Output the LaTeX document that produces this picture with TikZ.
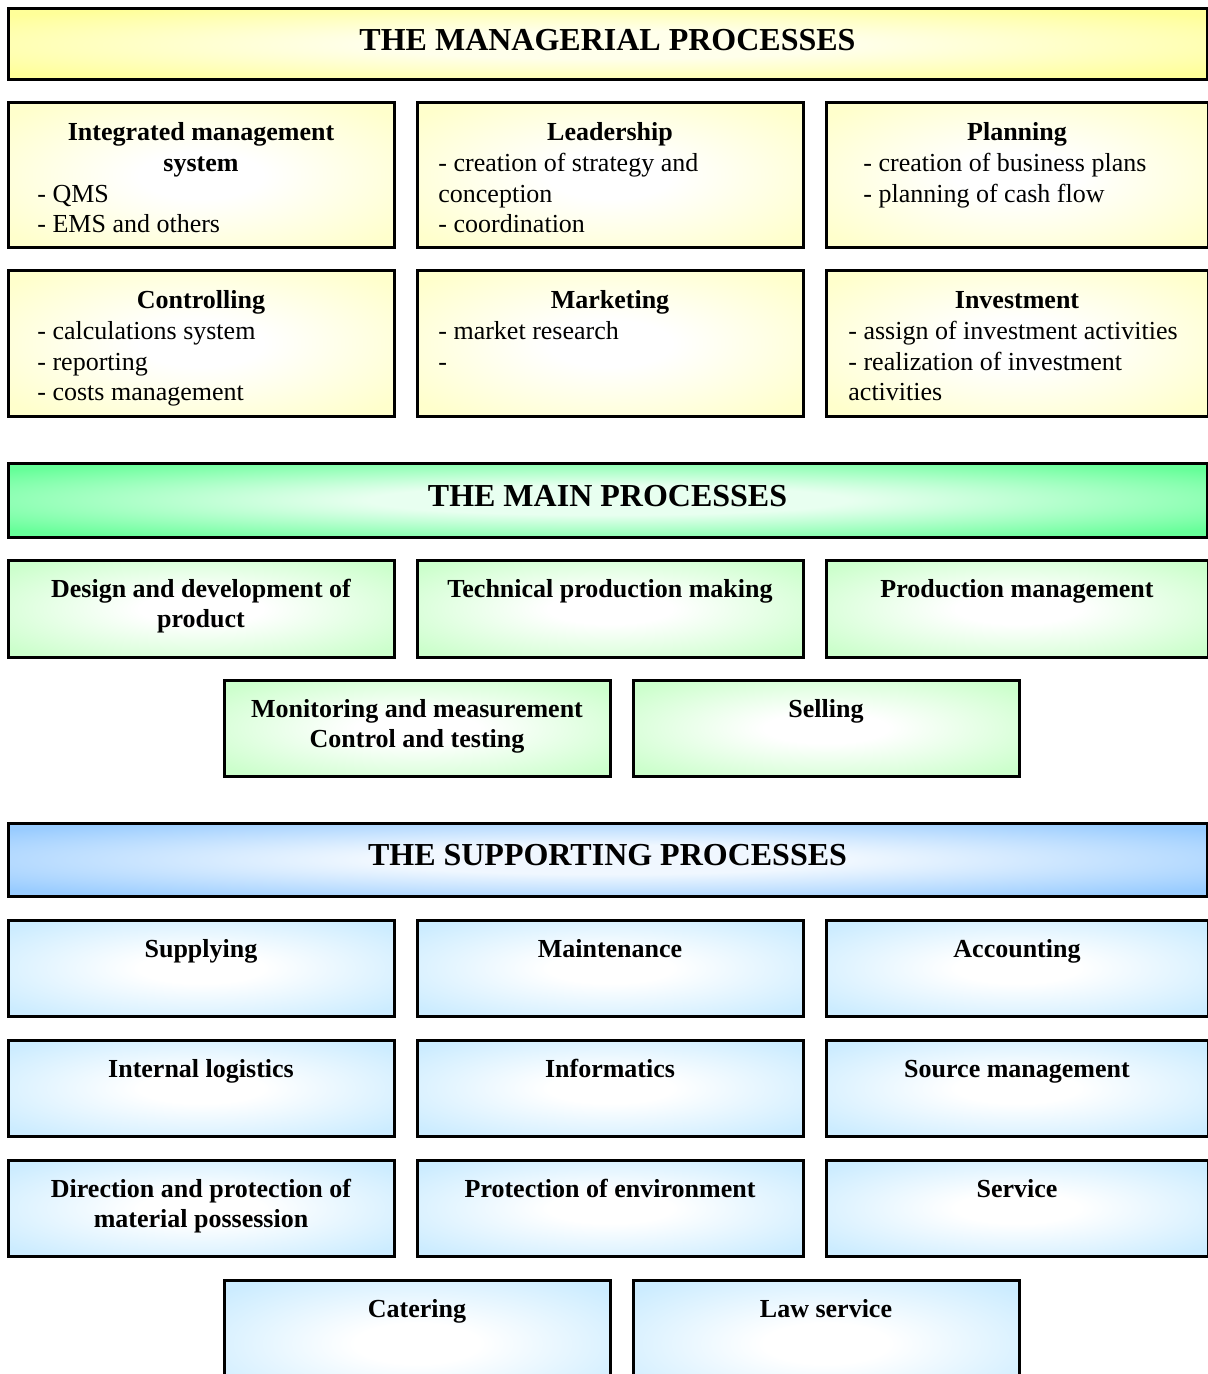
\documentclass[tikz,border=0pt]{standalone}
\usepackage{fontspec}
\setmainfont{Liberation Serif}
\usetikzlibrary{positioning}

\definecolor{mgrhead}{HTML}{FFFF99}
\definecolor{mgrbox}{HTML}{FFFFCC}
\definecolor{mainhead}{HTML}{66FF99}
\definecolor{mainbox}{HTML}{CCFFCC}
\definecolor{suphead}{HTML}{99CCFF}
\definecolor{supbox}{HTML}{CCECFF}
\colorlet{mgrmid}{white!80!mgrhead}
\colorlet{mainmid}{white!85!mainhead}
\colorlet{supmid}{white!85!suphead}

% soft glow: light in the middle, colour at the border
\pgfdeclareradialshading{mgrheadglow}{\pgfpointorigin}{color(0bp)=(mgrmid); color(10bp)=(mgrmid); color(32bp)=(mgrhead); color(50bp)=(mgrhead)}
\pgfdeclareradialshading{mainheadglow}{\pgfpointorigin}{color(0bp)=(mainmid); color(10bp)=(mainmid); color(32bp)=(mainhead); color(50bp)=(mainhead)}
\pgfdeclareradialshading{supheadglow}{\pgfpointorigin}{color(0bp)=(supmid); color(10bp)=(supmid); color(32bp)=(suphead); color(50bp)=(suphead)}
\pgfdeclareradialshading{mgrglow}{\pgfpointorigin}{color(0bp)=(white); color(8bp)=(white); color(32bp)=(mgrbox); color(50bp)=(mgrbox)}
\pgfdeclareradialshading{mainglow}{\pgfpointorigin}{color(0bp)=(white); color(8bp)=(white); color(32bp)=(mainbox); color(50bp)=(mainbox)}
\pgfdeclareradialshading{supglow}{\pgfpointorigin}{color(0bp)=(white); color(8bp)=(white); color(32bp)=(supbox); color(50bp)=(supbox)}

% lines hung from the baseline of the first one
\newcommand{\toplines}[2]{\begin{tabular}[t]{@{}#1@{}}#2\end{tabular}}

\begin{document}
\begin{tikzpicture}[
  x=1pt, y=1pt,
  head/.style={draw, line width=1.5pt, shade, minimum width=599.5pt, minimum height=36.5pt, inner sep=0pt, outer sep=0pt, anchor=north west, font=\fontsize{16pt}{19pt}\selectfont\bfseries, text height=11pt, text depth=5pt},
  cell/.style={draw, line width=1.5pt, shade, inner sep=0pt, outer sep=0pt, minimum width=193pt, font=\fontsize{13pt}{15.25pt}\selectfont\bfseries},
  mcell/.style={cell, shading=mgrglow, text height=19pt, text depth=53.5pt},
  pcell/.style={cell, shading=mainglow, text height=18.5pt, text depth=30pt},
  scell/.style={cell, shading=supglow, text height=18.5pt, text depth=29.5pt},
  items/.style={anchor=north west, inner sep=0pt, font=\fontsize{13pt}{15.25pt}\selectfont, text height=10pt},
]
  \useasboundingbox (0,0) rectangle (604,-687);

  % managerial
  \node[head, shading=mgrheadglow, minimum height=35.5pt] (mgr) at (4,-4.5) {THE MANAGERIAL PROCESSES};

  \node[mcell, anchor=north west] (ims) at (4,-51.5) {\toplines{c}{Integrated management\\system}};
  \node[mcell, right=11.5pt of ims] (lead) {Leadership};
  \node[mcell, right=11.5pt of lead, minimum width=191pt] (plan) {Planning};
  \node[mcell, below=11.5pt of ims] (ctrl) {Controlling};
  \node[mcell, right=11.5pt of ctrl] (mkt) {Marketing};
  \node[mcell, right=11.5pt of mkt, minimum width=191pt] (inv) {Investment};

  \node[items] (imsL) at ([xshift=14.5pt, yshift=-39.5pt]ims.north west) {\toplines{l}{- QMS\\- EMS and others}};
  \node[items] (leadL) at ([xshift=10.5pt, yshift=-24.25pt]lead.north west) {\toplines{l}{- creation of strategy and\\conception\\- coordination}};
  \node[items] (planL) at ([xshift=18.5pt, yshift=-24.25pt]plan.north west) {\toplines{l}{- creation of business plans\\- planning of cash flow}};
  \node[items] (ctrlL) at ([xshift=14.5pt, yshift=-24.25pt]ctrl.north west) {\toplines{l}{- calculations system\\- reporting\\- costs management}};
  \node[items] (mktL) at ([xshift=10.5pt, yshift=-24.25pt]mkt.north west) {\toplines{l}{- market research\\-}};
  \node[items] (invL) at ([xshift=11pt, yshift=-24.25pt]inv.north west) {\toplines{l}{- assign of investment activities\\- realization of investment\\activities}};

  % main
  \node[head, shading=mainheadglow, minimum height=37pt] (mainh) at (4,-231.5) {THE MAIN PROCESSES};

  \node[pcell, below=11.5pt of mainh.south west, anchor=north west] (design) {\toplines{c}{Design and development of\\product}};
  \node[pcell, right=11.5pt of design] (tech) {Technical production making};
  \node[pcell, right=11.5pt of tech, minimum width=191pt] (prod) {Production management};
  \node[pcell, anchor=north west, text depth=29.5pt] (monit) at (112,-340) {\toplines{c}{Monitoring and measurement\\Control and testing}};
  \node[pcell, right=11.5pt of monit, text depth=29.5pt] (sell) {Selling};

  % supporting
  \node[head, shading=supheadglow] (suph) at (4,-411.5) {THE SUPPORTING PROCESSES};

  \node[scell, below=12pt of suph.south west, anchor=north west] (supl) {Supplying};
  \node[scell, right=11.5pt of supl] (maint) {Maintenance};
  \node[scell, right=11.5pt of maint, minimum width=191pt] (acc) {Accounting};
  \node[scell, below=12pt of supl] (logi) {Internal logistics};
  \node[scell, right=11.5pt of logi] (info) {Informatics};
  \node[scell, right=11.5pt of info, minimum width=191pt] (src) {Source management};
  \node[scell, below=12pt of logi] (dir) {\toplines{c}{Direction and protection of\\material possession}};
  \node[scell, right=11.5pt of dir] (env) {Protection of environment};
  \node[scell, right=11.5pt of env, minimum width=191pt] (serv) {Service};
  \node[scell, anchor=north west, text depth=45pt] (cat) at (112,-640) {Catering};
  \node[scell, right=11.5pt of cat, text depth=45pt] (law) {Law service};
\end{tikzpicture}
\end{document}
